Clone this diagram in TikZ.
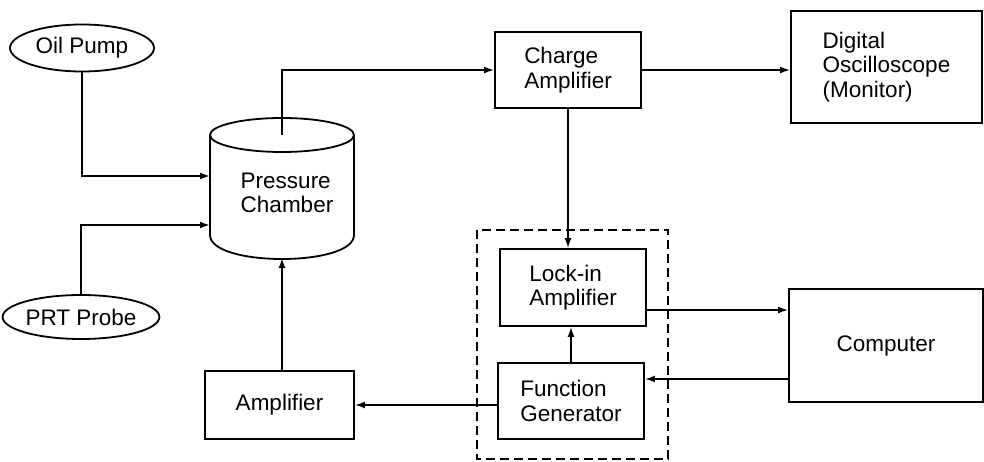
\documentclass[tikz,border=0pt]{standalone}
\usepackage{fontspec}
\setmainfont{Liberation Sans}
\usetikzlibrary{shapes.geometric,arrows.meta,calc}
\tikzset{
  every node/.style={font=\fontsize{22.5}{24.5}\selectfont, inner sep=0pt},
  blk/.style={draw, line width=1.8pt, rectangle, align=left},
  oval/.style={draw, line width=1.8pt, ellipse},
  arr/.style={line width=1.8pt, -{Latex[length=10pt,width=7pt]}},
  wire/.style={line width=1.8pt},
  grp/.style={line width=1.8pt, dash pattern=on 9pt off 5pt}
}
\begin{document}
\begin{tikzpicture}[x=1pt,y=-1pt]
\useasboundingbox (0,0) rectangle (984,462);

% sources
\node[oval, minimum width=144pt, minimum height=47pt] (oil) at (82,48) {Oil Pump};
\node[oval, minimum width=148pt, minimum height=44pt] (prt) at (81,317) {PRT Probe};

% pressure chamber drawn as a cylinder
\draw[wire] (282,135) ellipse [x radius=72pt, y radius=17pt];
\draw[wire] (210,135) -- (210,235) .. controls (210,267) and (354,267) .. (354,235) -- (354,135);
\node[align=left] (pc) at (287,193) {Pressure\\Chamber};
\coordinate (pcin1) at (210,176);
\coordinate (pcin2) at (210,225);
\coordinate (pctop) at (282,135);
\coordinate (pcbot) at (282,258);

% blocks
\node[blk, minimum width=146pt, minimum height=76pt] (chg) at (568,70) {Charge\\Amplifier};
\node[blk, minimum width=191pt, minimum height=112pt] (dig) at (886.5,67) {Digital\\Oscilloscope\\(Monitor)};
\node[blk, minimum width=146pt, minimum height=77pt] (lock) at (573,287.5) {Lock-in\\Amplifier};
\node[blk, minimum width=146pt, minimum height=76pt] (fg) at (571,401) {Function\\Generator};
\node[blk, minimum width=194pt, minimum height=113pt] (comp) at (886,345.5) {Computer};
\node[blk, minimum width=149pt, minimum height=68pt] (amp) at (279.5,405) {Amplifier};

% dashed group around lock-in and function generator
\draw[grp] (477,230) rectangle (668,459);

% ports on the lock-in / computer link (shifts are in page units)
\coordinate (lockout) at ([yshift=-22.5pt]lock.east);
\coordinate (compout) at ([yshift=-33.5pt]comp.west);

% connections
\draw[arr] (oil.south) |- (pcin1);
\draw[arr] (prt.north) |- (pcin2);
\draw[arr] (pctop) |- (chg.west);
\draw[arr] (chg.east) -- (dig.west |- chg.east);
\draw[arr] (chg.south) -- (chg.south |- lock.north);
\draw[arr] (fg.north) -- (fg.north |- lock.south);
\draw[arr] (lockout) -- (comp.west |- lockout);
\draw[arr] (compout) -- (fg.east |- compout);
\draw[arr] (fg.west |- amp.east) -- (amp.east);
\draw[arr] (amp.north -| pcbot) -- (pcbot);
\end{tikzpicture}
\end{document}
